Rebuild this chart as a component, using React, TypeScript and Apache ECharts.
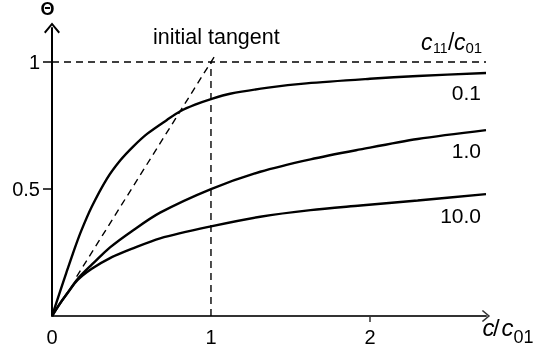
import { useEffect, useRef } from 'react';
import * as echarts from 'echarts';

// c/c01 values and coverage Θ
const xLow = [0, 0.05, 0.09, 0.145, 0.185, 0.25, 0.345, 0.43, 0.512, 0.6, 0.723, 0.807, 0.9, 1.0, 1.12, 1.36, 1.6, 2.0, 2.3, 2.73];
const thetaLow = [0, 0.095, 0.17, 0.27, 0.337, 0.43, 0.54, 0.613, 0.668, 0.718, 0.772, 0.806, 0.832, 0.854, 0.875, 0.899, 0.916, 0.934, 0.945, 0.957];
const xMid = [0, 0.05, 0.1, 0.16, 0.25, 0.365, 0.5, 0.68, 1.0, 1.31, 1.626, 1.94, 2.3, 2.73];
const thetaMid = [0, 0.049, 0.093, 0.145, 0.202, 0.27, 0.333, 0.407, 0.5, 0.568, 0.617, 0.656, 0.697, 0.732];
const xHigh = [0, 0.05, 0.1, 0.16, 0.25, 0.365, 0.5, 0.68, 1.0, 1.31, 1.626, 1.94, 2.3, 2.73];
const thetaHigh = [0, 0.049, 0.092, 0.141, 0.186, 0.228, 0.264, 0.306, 0.353, 0.391, 0.417, 0.435, 0.455, 0.48];
const ratioLabels = ['0.1', '1.0', '10.0'];
const tangentX = [0.155, 1.035];
const xTicks = [0, 1, 2];
const yTicks = [0.5, 1];
const xMax = 2.73;
const yMax = 1.134;

const FONT = '"Liberation Sans", Arial, sans-serif';
const pair = (xs: number[], ys: number[]) => xs.map((x, i) => [x, ys[i]]);
const dashed = { color: '#000', width: 1.4, type: [7, 5] as number[] };
const solid = { color: '#000', width: 2.4 };
const chevron = 'path://M0,60 L50,0 L100,60 L91,69 L50,19 L9,69 Z';

export default function App() {
  const ref = useRef<HTMLDivElement>(null);
  useEffect(() => {
    if (!ref.current) return;
    const chart = echarts.init(ref.current, null, { renderer: 'svg' });
    const txt = (text: string, x: number, y: number, size: number, extra: any = {}) => ({
      type: 'text',
      x,
      y,
      style: { text, fontSize: size, fontFamily: FONT, fill: '#000', verticalAlign: 'middle', align: 'left', ...extra },
    });
    const curve = (name: string, xs: number[], ys: number[]) => ({
      type: 'line',
      name,
      data: pair(xs, ys),
      showSymbol: false,
      smooth: 0.3,
      lineStyle: solid,
    });
    chart.setOption({
      animation: false,
      grid: { left: 52, right: 50, top: 28, bottom: 42, containLabel: false, outerBoundsMode: 'none' },
      xAxis: {
        type: 'value',
        min: 0,
        max: xMax,
        interval: 1,
        splitLine: { show: false },
        axisLine: {
          show: true,
          onZero: false,
          symbol: ['none', chevron],
          symbolSize: [12, 11],
          lineStyle: { color: '#333', width: 2 },
        },
        axisTick: { show: true, customValues: [2], length: 6, lineStyle: { color: '#333', width: 1.5 } },
        axisLabel: { customValues: xTicks, margin: 11, fontSize: 20, fontFamily: FONT, color: '#000' },
      },
      yAxis: {
        type: 'value',
        min: 0,
        max: yMax,
        interval: 0.5,
        splitLine: { show: false },
        axisLine: {
          show: true,
          onZero: false,
          symbol: ['none', chevron],
          symbolSize: [17, 11],
          lineStyle: { color: '#000', width: 2 },
        },
        axisTick: { show: true, customValues: yTicks, length: 9, lineStyle: { color: '#000', width: 1.5 } },
        axisLabel: { customValues: yTicks, margin: 12, fontSize: 20, fontFamily: FONT, color: '#000' },
      },
      series: [
        curve(ratioLabels[0], xLow, thetaLow),
        curve(ratioLabels[1], xMid, thetaMid),
        curve(ratioLabels[2], xHigh, thetaHigh),
        { type: 'line', name: 'tangent', data: pair(tangentX, tangentX), showSymbol: false, lineStyle: dashed },
        { type: 'line', name: 'unity', data: [[0, 1], [xMax, 1]], showSymbol: false, lineStyle: dashed },
        { type: 'line', name: 'x1', data: [[1, 0], [1, 1]], showSymbol: false, lineStyle: dashed },
      ],
      graphic: [
        txt('Θ', 47.5, 9, 18, { align: 'center', fontWeight: 'bold' }),
        txt('initial tangent', 153, 37, 21.5),
        txt(ratioLabels[0], 481, 92, 21, { align: 'right' }),
        txt(ratioLabels[1], 481, 150, 21, { align: 'right' }),
        txt(ratioLabels[2], 481, 215, 21, { align: 'right' }),
        // c11 / c01
        txt('c', 421, 42, 23, { fontStyle: 'italic' }),
        txt('11', 433, 47.8, 14),
        txt('/', 448, 42, 23),
        txt('c', 454, 42, 23, { fontStyle: 'italic' }),
        txt('01', 465.5, 47.8, 15),
        // c / c01 axis name
        txt('c', 482.5, 327.7, 24, { fontStyle: 'italic' }),
        txt('/', 493, 327.7, 24),
        txt('c', 501.5, 327.7, 24, { fontStyle: 'italic' }),
        txt('01', 513.5, 337, 18),
      ],
    });
    return () => chart.dispose();
  }, []);
  return <div ref={ref} style={{ position: 'fixed', left: 0, top: 0, width: 536, height: 358 }} />;
}
